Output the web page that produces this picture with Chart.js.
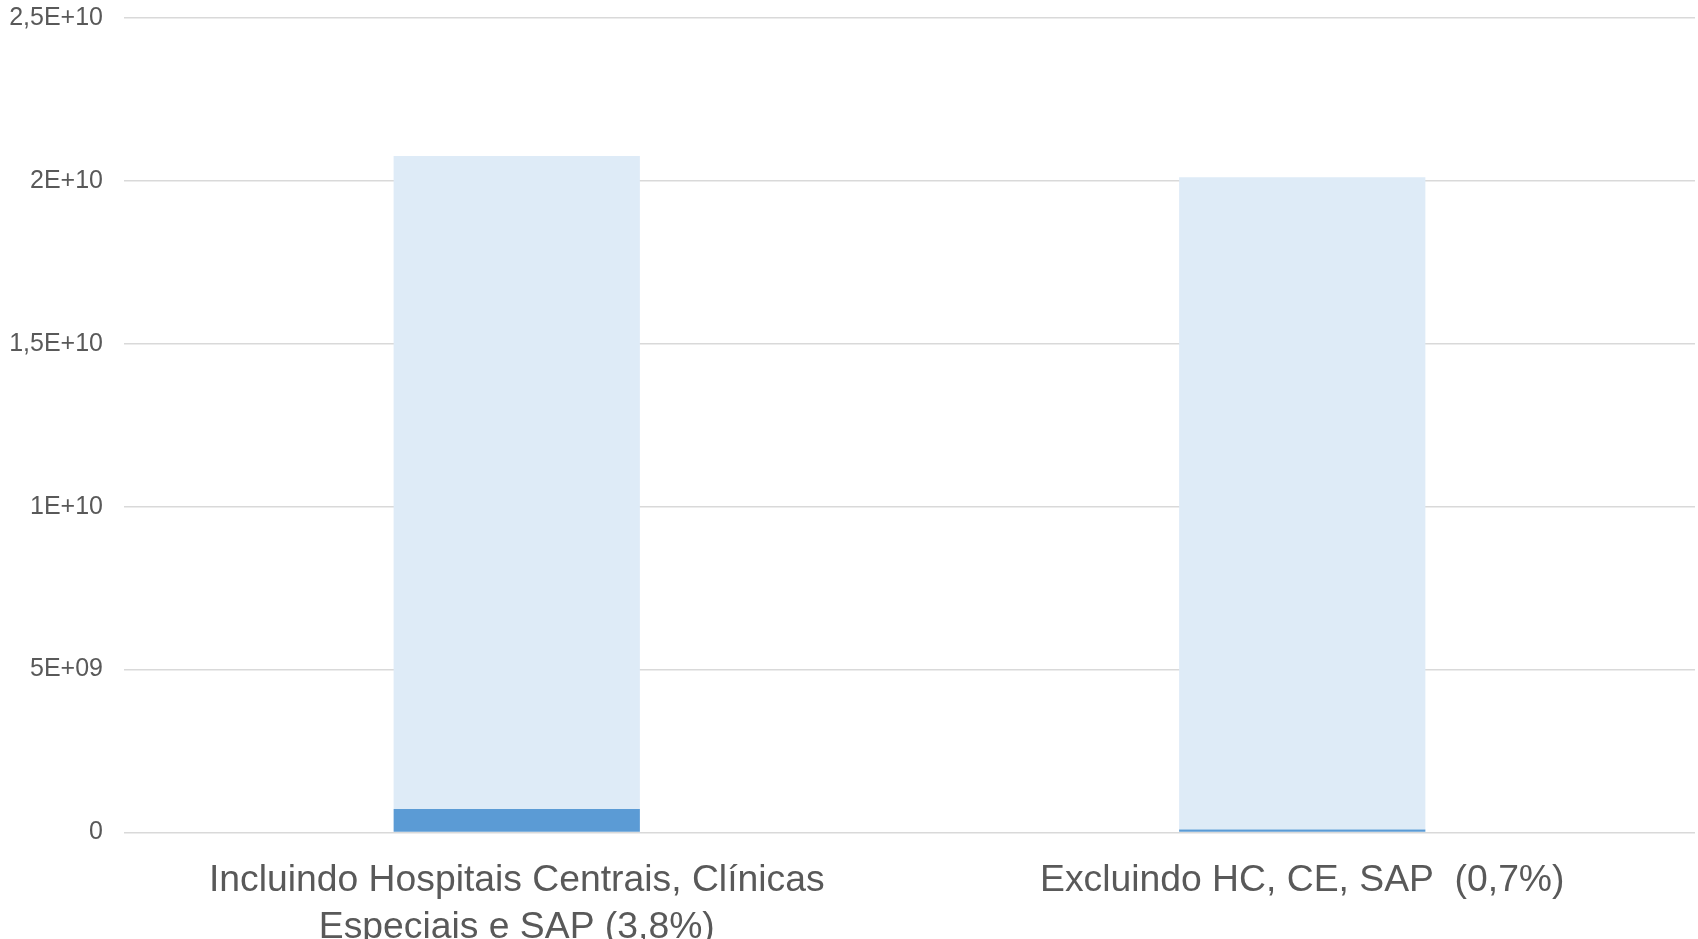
<!DOCTYPE html>
<html>
<head>
<meta charset="utf-8">
<title>Custos</title>
<script src="https://cdn.jsdelivr.net/npm/chart.js@4/dist/chart.umd.min.js"></script>
<style>
  html, body { margin: 0; padding: 0; background: #ffffff; }
  #wrap { width: 1698px; height: 939px; }
</style>
</head>
<body>
<div id="wrap"><canvas id="chart" width="1698" height="939"></canvas></div>
<script>
// Categories (multi-line label for the first one)
const categories = [
  ['Incluindo Hospitais Centrais, Clínicas', 'Especiais e SAP (3,8%)'],
  'Excluindo HC, CE, SAP  (0,7%)'
];

// Stacked series: small share at the bottom, remainder on top
const shareValues = [7.2e8, 9.5e7];
const restValues = [2.0044e10, 2.0020e10];

// Y axis ticks and their printed labels
const yTickValues = [0, 5e9, 1e10, 1.5e10, 2e10, 2.5e10];
const yTickLabels = ['0', '5E+09', '1E+10', '1,5E+10', '2E+10', '2,5E+10'];

const textColor = '#595959';
const gridColor = '#d9d9d9';
const fontFamily = '"Liberation Sans", Arial, sans-serif';

new Chart(document.getElementById('chart'), {
  type: 'bar',
  data: {
    labels: categories,
    datasets: [
      {
        label: 'Parcela',
        data: shareValues,
        backgroundColor: '#5b9bd5',
        borderWidth: 0,
        barPercentage: 1,
        categoryPercentage: 0.3135
      },
      {
        label: 'Restante',
        data: restValues,
        backgroundColor: '#deebf7',
        borderWidth: 0,
        barPercentage: 1,
        categoryPercentage: 0.3135
      }
    ]
  },
  options: {
    responsive: false,
    animation: false,
    devicePixelRatio: 1,
    layout: { padding: { top: 18, right: 3, left: 0, bottom: 0 } },
    plugins: {
      legend: { display: false },
      tooltip: { enabled: false }
    },
    scales: {
      x: {
        stacked: true,
        grid: { display: false, drawTicks: false },
        border: { display: false },
        ticks: {
          color: textColor,
          padding: 25,
          maxRotation: 0,
          autoSkip: false,
          font: { family: fontFamily, size: 37.3, lineHeight: 1.25 }
        },
        afterFit(scale) { scale.height = 106.5; }
      },
      y: {
        stacked: true,
        min: 0,
        max: 2.5e10,
        grid: { color: gridColor, lineWidth: 1.5, drawTicks: false },
        border: { display: false },
        afterBuildTicks(scale) {
          scale.ticks = yTickValues.map(v => ({ value: v }));
        },
        ticks: {
          color: textColor,
          padding: 21,
          font: { family: fontFamily, size: 25 },
          callback(value) {
            const i = yTickValues.indexOf(value);
            return i >= 0 ? yTickLabels[i] : '';
          }
        },
        afterFit(scale) {
          scale.width = 124;
          // the top label may sit in the layout padding
          scale.paddingTop = 0;
          scale.paddingBottom = 0;
        }
      }
    }
  }
});
</script>
</body>
</html>
